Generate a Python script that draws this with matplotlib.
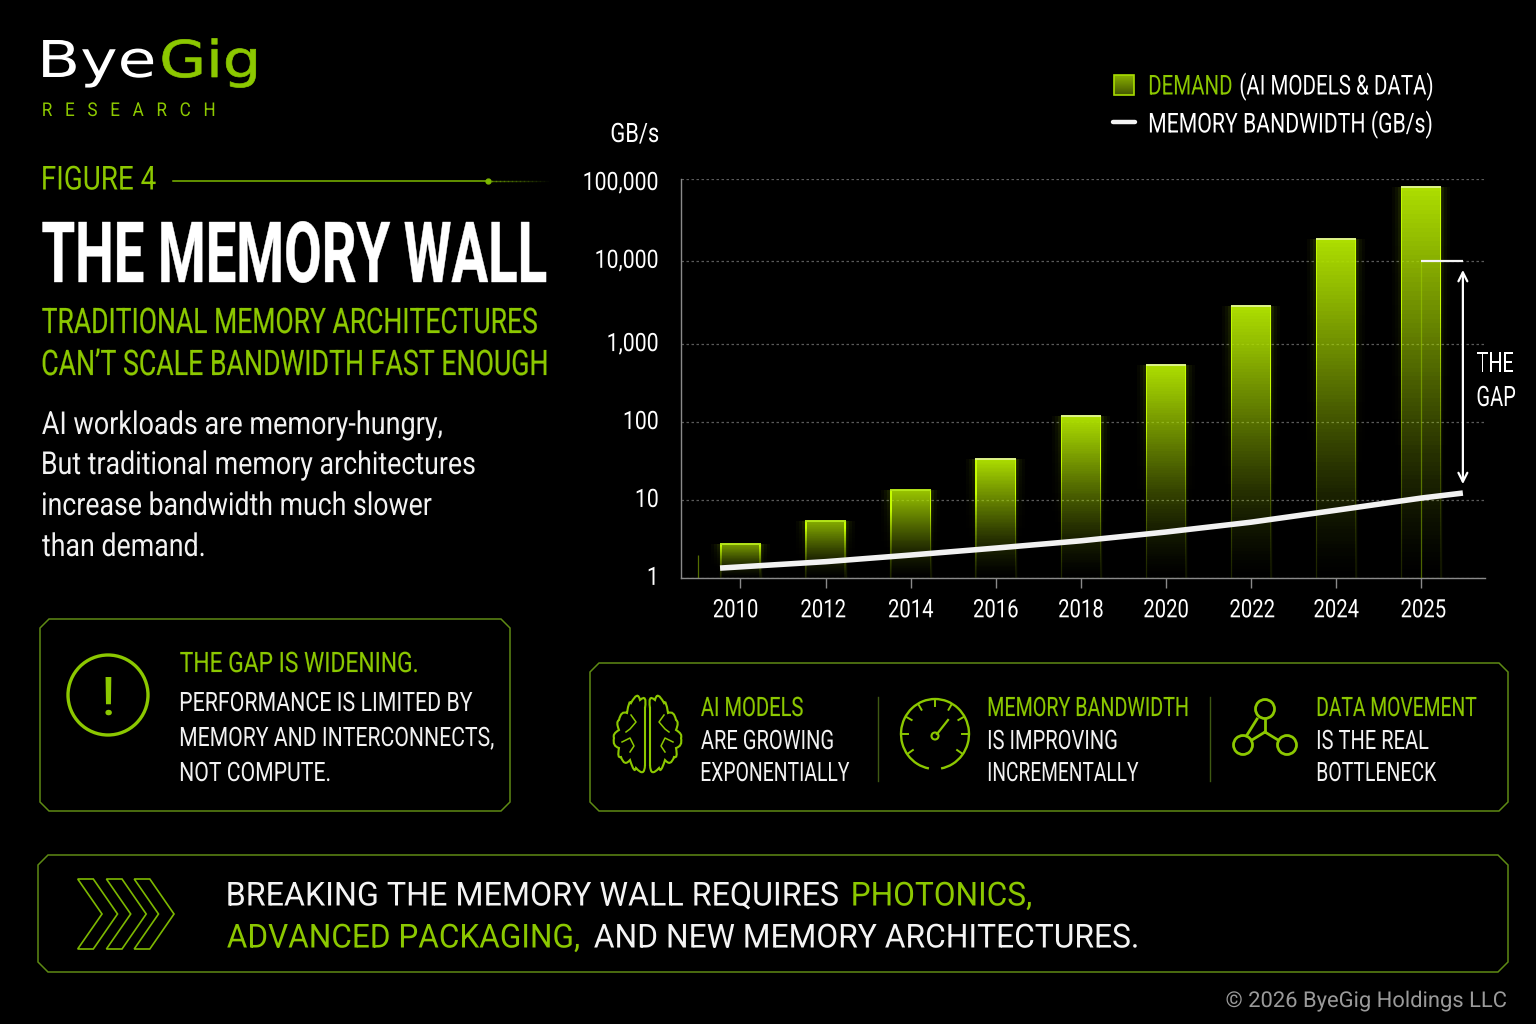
import numpy as np
import matplotlib
matplotlib.use('Agg')
import matplotlib.pyplot as plt
from matplotlib.font_manager import FontProperties
from matplotlib.patches import Circle, Polygon, Arc, PathPatch
from matplotlib.path import Path
from matplotlib.patheffects import AbstractPathEffect
from matplotlib.textpath import TextPath
from matplotlib.transforms import Affine2D

years = ['2010', '2012', '2014', '2016', '2018', '2020', '2022', '2024', '2025']
demand = [2.7, 5.4, 13.4, 34, 119, 540, 2850, 18500, 80000]
line_pos = [-0.24, 0, 1, 2, 3, 4, 5, 6, 7, 8, 8.49]
bandwidth = [1.34, 1.39, 1.62, 1.97, 2.42, 3.0, 3.89, 5.2, 7.4, 10.6, 12.3]
y_ticks = [1, 10, 100, 1000, 10000, 100000]
y_labels = ['1', '10', '100', '1,000', '10,000', '100,000']
# the picture's decades are not quite evenly spaced
decade_rise = [0, 78, 156, 234, 317.3, 399.3]

LIME = '#8CC800'
BAR = np.array([0.68, 0.87, 0.0])
EDGE = '#5E8A14'
DPI = 100


class Tall(AbstractPathEffect):
    # no condensed font is installed, so set a smaller size and stretch it upward
    def __init__(self, sy, bold=0):
        super().__init__()
        self.sy = sy
        self.bold = bold

    def draw_path(self, renderer, gc, tpath, affine, rgbFace=None):
        gc0 = renderer.new_gc()
        gc0.copy_properties(gc)
        gc0.set_linewidth(self.bold)
        gc0.set_foreground(rgbFace)
        renderer.draw_path(gc0, tpath, Affine2D().scale(1, self.sy) + affine, rgbFace)
        gc0.restore()


fig = plt.figure(figsize=(15.36, 10.24), dpi=DPI, facecolor='black')
bg = fig.add_axes([0, 0, 1, 1])
bg.set_xlim(0, 1536)
bg.set_ylim(1024, 0)
bg.axis('off')


def put(s, x0, x1, base, cap, color='white', weight='normal', family='Roboto', bold=0):
    ratio = 0.729 if family == 'DejaVu Sans' else 0.711
    box = TextPath((0, 0), s, prop=FontProperties(family=family, weight=weight, size=10)).get_extents()
    size = 10 * (x1 - x0 - 3.5) * 72 / DPI / box.width
    bearing = box.x0 * size / 10 * DPI / 72
    sy = cap / (ratio * size * DPI / 72)
    t = bg.text(x0 - bearing / 2, base, s, color=color, family=family, weight=weight, size=size,
                ha='left', va='baseline')
    t.set_path_effects([Tall(sy, bold)])
    return t


def chamfer_box(x0, y0, x1, y1, c):
    pts = [(x0 + c, y0), (x1 - c, y0), (x1, y0 + c), (x1, y1 - c),
           (x1 - c, y1), (x0 + c, y1), (x0, y1 - c), (x0, y0 + c)]
    bg.add_patch(Polygon(pts, closed=True, fill=False, ec=EDGE, lw=1.1))


def bumpy(points, color=LIME, lw=1.5, closed=False, push=1.35):
    # outline made of small arcs, each one bulging away from the centre of the shape
    pts = np.array(points, float)
    mid = pts.mean(axis=0)
    verts = [pts[0]]
    codes = [Path.MOVETO]
    n = len(pts) if closed else len(pts) - 1
    for i in range(n):
        a, b = pts[i], pts[(i + 1) % len(pts)]
        m = (a + b) / 2
        verts += [mid + (m - mid) * push, b]
        codes += [Path.CURVE3, Path.CURVE3]
    bg.add_patch(PathPatch(Path(verts, codes), fill=False, ec=color, lw=lw))


# header and left column
put('Bye', 40, 153.5, 77, 37, 'white', family='DejaVu Sans')
put('Gig', 161, 257.5, 77, 37, LIME, family='DejaVu Sans', bold=0.5)
put('R   E   S   E   A   R   C   H', 42.5, 217, 116, 13.5, LIME)
put('FIGURE 4', 42, 158, 189.5, 23.5, LIME)
bg.plot([173, 488], [180.5, 180.5], color='#7DB800', lw=1.1)
bg.plot([488], [180.5], 'o', color='#7DB800', ms=3.5)
for i, x in enumerate(range(488, 546, 4)):
    bg.plot([x, x + 4], [180.5, 180.5], color='#7DB800', lw=1, alpha=0.55 * (1 - i / 15))

put('THE MEMORY WALL', 42, 549, 282, 60, 'white', weight='bold', bold=0.3)
put('TRADITIONAL MEMORY ARCHITECTURES', 42, 540, 333, 25, LIME, bold=0.15)
put('CAN’T SCALE BANDWIDTH FAST ENOUGH', 42, 549, 375, 25, LIME, bold=0.15)
body = ['AI workloads are memory-hungry,', 'But traditional memory architectures',
        'increase bandwidth much slower', 'than demand.']
for s, x1, base in zip(body, [445, 477, 434, 207], [434, 474, 515, 556]):
    put(s, 42, x1, base, 22.5, '#f2f2f2')

chamfer_box(40, 619, 510, 811, 9)
bg.add_patch(Circle((108, 695), 40, fill=False, ec=LIME, lw=2.4))
put('!', 103, 113, 715, 38, LIME)
put('THE GAP IS WIDENING.', 180, 420, 672, 20, LIME, bold=0.1)
gap_lines = ['PERFORMANCE IS LIMITED BY', 'MEMORY AND INTERCONNECTS,', 'NOT COMPUTE.']
for s, x1, base in zip(gap_lines, [475, 496, 332], [711, 746, 781]):
    put(s, 180, x1, base, 19, '#f2f2f2')

# takeaways box
chamfer_box(590, 663, 1508, 811, 9)
for x in [878, 1210]:
    bg.plot([x, x], [697, 781], color='#3f5a12', lw=1)
take = [('AI MODELS', 701, 806, 716, LIME), ('ARE GROWING', 701, 836, 749, '#f2f2f2'),
        ('EXPONENTIALLY', 701, 852, 781, '#f2f2f2'),
        ('MEMORY BANDWIDTH', 988, 1190, 716, LIME), ('IS IMPROVING', 988, 1119, 749, '#f2f2f2'),
        ('INCREMENTALLY', 988, 1141, 781, '#f2f2f2'),
        ('DATA MOVEMENT', 1317, 1479, 716, LIME), ('IS THE REAL', 1317, 1431, 749, '#f2f2f2'),
        ('BOTTLENECK', 1317, 1439, 781, '#f2f2f2')]
for s, x0, x1, base, col in take:
    put(s, x0, x1, base, 19, col, bold=0.1 if col == LIME else 0)

# brain icon
lobe = [(645, 708), (640, 700), (631, 703), (627, 713), (619, 720), (619, 730), (614, 738),
        (619, 748), (621, 757), (630, 760), (636, 768), (645, 765)]
for sign in [1, -1]:
    pts = [(x if sign == 1 else 1295 - x, y) for x, y in lobe]
    bumpy(pts, lw=1.5)
    x_in = pts[0][0]
    bg.plot([x_in, x_in], [708, 765], color=LIME, lw=1.5)
    for seg in [[(631, 715), (636, 722), (630, 729), (626, 732)],
                [(622, 742), (630, 738), (634, 746), (630, 752)]]:
        s2 = [(x if sign == 1 else 1295 - x, y) for x, y in seg]
        bg.plot(*zip(*s2), color=LIME, lw=1.1)

# gauge icon
gx, gy = 935, 734
bg.add_patch(Arc((gx, gy), 68, 70, theta1=100, theta2=440, ec=LIME, lw=1.7))
for ang in [0, 30, 60, 90, 120, 150, 180, 215, 325]:
    a = np.radians(ang)
    bg.plot([gx + 27 * np.cos(a), gx + 33.5 * np.cos(a)], [gy - 28 * np.sin(a), gy - 34.5 * np.sin(a)],
            color=LIME, lw=1.4)
bg.add_patch(Circle((gx, gy + 2), 3.5, fill=False, ec=LIME, lw=1.5))
bg.plot([gx + 2, gx + 13], [gy, gy - 14], color=LIME, lw=1.6)

# network icon
bg.add_patch(Circle((1265, 709), 9.5, fill=False, ec=LIME, lw=2))
bg.add_patch(Circle((1243, 745), 9.5, fill=False, ec=LIME, lw=2))
bg.add_patch(Circle((1287, 745), 9.5, fill=False, ec=LIME, lw=2))
bg.plot([1265, 1265], [719, 732], color=LIME, lw=2)
bg.plot([1265, 1252], [732, 740], color=LIME, lw=2)
bg.plot([1265, 1278], [732, 740], color=LIME, lw=2)
bg.plot([1247, 1257], [735, 719], color=LIME, lw=2)

# bottom banner
chamfer_box(38, 855, 1508, 972, 10)
for dx in [0, 28.7, 56.5]:
    chev = [(77.7 + dx, 879), (93.3 + dx, 879), (117.5 + dx, 914), (93.3 + dx, 949), (77.7 + dx, 949), (102 + dx, 914)]
    bg.add_patch(Polygon(chev, closed=True, fill=False, ec='#7DB800', lw=1.2))
put('BREAKING THE MEMORY WALL REQUIRES', 227, 840, 905.5, 23.5, '#f4f4f4')
put('PHOTONICS,', 852, 1033, 905.5, 23.5, LIME)
put('ADVANCED PACKAGING,', 227, 582, 947.5, 23.5, LIME)
put('AND NEW MEMORY ARCHITECTURES.', 594, 1140, 947.5, 23.5, '#f4f4f4')
put('© 2026 ByeGig Holdings LLC', 1226, 1509, 1007, 15.5, '#9a9a9a')

# legend
swatch = np.zeros((20, 20, 4))
swatch[..., :3] = BAR
swatch[..., 3] = np.linspace(0.8, 0.4, 20)[:, None]
bg.imshow(swatch, extent=[1114, 1134, 95, 75], aspect='auto', zorder=2)
bg.add_patch(Polygon([(1114, 75), (1134, 75), (1134, 95), (1114, 95)], fill=False, ec='#A8DC00', lw=1.2, zorder=3))
bg.set_xlim(0, 1536)
bg.set_ylim(1024, 0)
put('DEMAND', 1149, 1234, 94.5, 19.5, LIME)
put('(AI MODELS & DATA)', 1240, 1435, 94.5, 19.5)
bg.plot([1113, 1135], [122, 122], color='#f4f4f4', lw=3.2, solid_capstyle='round')
put('MEMORY BANDWIDTH (GB/s)', 1149, 1434, 132.5, 19.5)
put('GB/s', 611, 661, 142, 19)

# chart
ax = fig.add_axes([681 / 1536, (1024 - 578) / 1024, 804 / 1536, 399 / 1024])
ax.patch.set_alpha(0)


def to_rise(v):
    return np.interp(np.log10(np.maximum(v, 1e-9)), np.arange(6), decade_rise)


def from_rise(r):
    return 10 ** np.interp(r, decade_rise, np.arange(6))


ax.set_yscale('function', functions=(to_rise, from_rise))
ax.set_xlim(-0.699, 8.75)
ax.set_ylim(1, 100000)

pos = np.arange(len(years))
w = 40.5 / 85.1
e = 1.4 / 85.1
ax.bar(pos, np.array(demand) - 1, bottom=1, width=w, facecolor='none', edgecolor=(0.68, 0.87, 0, 0.1), lw=1, zorder=2)
for x, v in zip(pos, demand):
    ys = np.geomspace(1, v, 90)
    t = np.linspace(0, 1, 89)
    h = to_rise(v)
    top = min(1.0, 0.5 + 0.5 * h / 120)
    a = top * np.clip(t, 0, 1) ** 1.35
    # soft glow round the bar
    for grow, g in [(9, 0.035), (6, 0.05), (3, 0.08)]:
        gw = w / 2 + grow / 85.1
        c = np.zeros((89, 1, 4))
        c[..., :3] = BAR
        c[:, 0, 3] = g * t ** 2
        ax.pcolormesh([x - gw, x + gw], ys, c, shading='flat', lw=0, zorder=1)
    c = np.zeros((89, 3, 4))
    c[..., :3] = BAR
    c[:, 1, 3] = a
    c[:, 0, :3] = c[:, 2, :3] = (0.78, 1.0, 0.0)
    c[:, 0, 3] = c[:, 2, 3] = np.clip(a * 1.5 + 0.06, 0, 1)
    ax.pcolormesh([x - w / 2, x - w / 2 + e, x + w / 2 - e, x + w / 2], ys, c, shading='flat', lw=0, zorder=1.5)
    ax.hlines(v, x - w / 2, x + w / 2, color='#dff58a' if h > 100 else '#b5e61a', lw=1.4, zorder=3)

ax.set_yticks(y_ticks)
ax.set_yticklabels(y_labels)
ax.minorticks_off()
ax.set_xticks(pos)
ax.set_xticklabels(years)
ax.grid(axis='y', color='#5a5a5a', lw=0.9, ls=(0, (2, 2)), zorder=0)
ax.set_axisbelow(True)
ax.tick_params(axis='y', length=0, pad=16, labelcolor='white', labelsize=15.3, labelfontfamily='Roboto')
ax.tick_params(axis='x', length=7, width=1, color='#8a8a8a', pad=10.5, labelcolor='white', labelsize=14.6, labelfontfamily='Roboto')
y_nudge = [0.6, 0.6, 0.6, 0.6, 0.6, -3.5]
for t, dy in zip(ax.get_yticklabels(), y_nudge):
    t.set_path_effects([Tall(1.19)])
    t.set_transform(t.get_transform() + Affine2D().translate(0, dy))
label_nudge = [-5, -2.5, 0, 0, 0, 0, 1, 0, 2]
for t, dx in zip(ax.get_xticklabels(), label_nudge):
    t.set_path_effects([Tall(1.25)])
    t.set_transform(t.get_transform() + Affine2D().translate(dx, 0))
for side in ['top', 'right']:
    ax.spines[side].set_visible(False)
for side in ['left', 'bottom']:
    ax.spines[side].set_color('#8a8a8a')
    ax.spines[side].set_linewidth(1)

ax.plot(line_pos, bandwidth, color='#f2f2f2', lw=4, solid_capstyle='butt', zorder=5)

# the gap marker on the last bar
ax.vlines(8, 1, 10000, color='#A8DC00', lw=0.9, alpha=0.45, zorder=3)
ax.hlines(10000, 8, 8.49, color='#f4f4f4', lw=1.6, zorder=5)
ax.annotate('', xy=(8.49, 7800), xytext=(8.49, 16),
            arrowprops=dict(arrowstyle='<->', color='white', lw=1.6, shrinkA=0, shrinkB=0, mutation_scale=16), zorder=6)
ax.vlines(-0.5, 1, 1.95, color='#A8DC00', lw=0.9, alpha=0.5)
put('THE', 1477, 1516, 372, 20)
put('GAP', 1477, 1518, 406, 20)

fig.savefig('out.png', dpi=DPI, facecolor='black')
